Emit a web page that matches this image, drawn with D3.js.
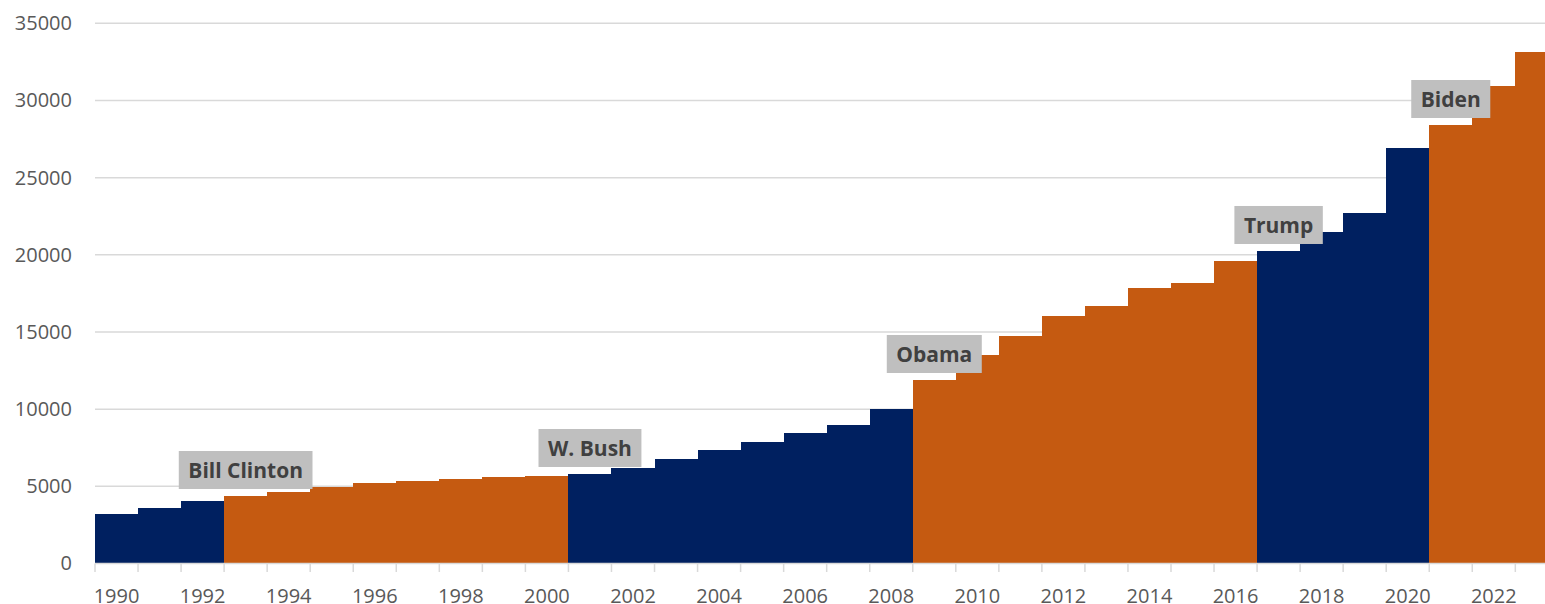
<!DOCTYPE html>
<html>
<head>
<meta charset="utf-8">
<script src="https://cdn.jsdelivr.net/npm/d3@7"></script>
<style>
  html, body { margin: 0; padding: 0; background: #fff; overflow: hidden; }
  svg { display: block; }
  text { font-family: "Open Sans", "Noto Sans", sans-serif; }
</style>
</head>
<body>
<svg id="chart" width="1545" height="604"></svg>
<script>
// ---- data ----
const years = [1990,1991,1992,1993,1994,1995,1996,1997,1998,1999,2000,2001,2002,2003,2004,2005,2006,2007,2008,2009,2010,2011,2012,2013,2014,2015,2016,2017,2018,2019,2020,2021,2022,2023];
const debt = [3206,3598,4049,4373,4633,4957,5216,5369,5478,5605,5669,5799,6188,6771,7354,7872,8455,8974,10010,11890,13509,14760,16036,16684,17824,18151,19573,20248,21478,22709,26921,28411,30938,33141];
const termStart = [1989, 1993, 2001, 2009, 2017, 2021];
const termParty = ["R", "D", "R", "D", "R", "D"];
const termLabel = [null, "Bill Clinton", "W. Bush", "Obama", "Trump", "Biden"];
const yTicks = [0,5000,10000,15000,20000,25000,30000,35000];
const xTickLabels = [1990,1992,1994,1996,1998,2000,2002,2004,2006,2008,2010,2012,2014,2016,2018,2020,2022];

// ---- style ----
const partyColor = { R: "#002060", D: "#C55A11" };

(function () {
const svg = d3.select("#chart");
// plot area extends slightly past the right edge of the picture (cropped, as in the reference)
const mLeft = 95, mRight = 95 + 34 * 43.04, mTop = 23.3, mBottom = 563.5;
const visRight = 1545;

const x = d3.scaleBand().domain(years).range([mLeft, mRight]).padding(0);
const y = d3.scaleLinear().domain([0, 35000]).range([mBottom, mTop]);

function termIndex(yr) {
  let idx = 0;
  termStart.forEach((s, i) => { if (yr >= s) idx = i; });
  return idx;
}

// gridlines
svg.append("g").selectAll("line")
  .data(yTicks.filter(d => d > 0))
  .join("line")
  .attr("x1", mLeft).attr("x2", visRight)
  .attr("y1", d => y(d)).attr("y2", d => y(d))
  .attr("stroke", "#d9d9d9").attr("stroke-width", 1.5);

// y labels
const yAxis = d3.axisLeft(y).tickValues(yTicks).tickSize(0).tickPadding(0).tickFormat(d3.format("d"));
const gy = svg.append("g").attr("transform", "translate(72,0)").call(yAxis);
gy.select(".domain").remove();
gy.selectAll("text").attr("font-size", 20).attr("fill", "#595959")
  .attr("font-family", '"Open Sans", sans-serif');

// bars
const data = years.map((yr, i) => ({ year: yr, value: debt[i], term: termIndex(yr) }));
svg.append("g").attr("shape-rendering", "crispEdges").selectAll("rect")
  .data(data)
  .join("rect")
  .attr("x", d => x(d.year))
  .attr("width", x.bandwidth() + 0.6)
  .attr("y", d => y(d.value))
  .attr("height", d => y(0) - y(d.value))
  .attr("fill", d => partyColor[termParty[d.term]]);

// x axis line + boundary ticks
const gx = svg.append("g");
gx.append("line")
  .attr("x1", mLeft).attr("x2", visRight)
  .attr("y1", y(0)).attr("y2", y(0))
  .attr("stroke", "#d9d9d9").attr("stroke-width", 1.5);
const boundaries = years.map(yr => x(yr)).concat([x.range()[1]]);
gx.selectAll("line.tick")
  .data(boundaries)
  .join("line")
  .attr("class", "tick")
  .attr("x1", d => d).attr("x2", d => d)
  .attr("y1", y(0)).attr("y2", y(0) + 8.5)
  .attr("stroke", "#d9d9d9").attr("stroke-width", 1.5);

// x labels
const xAxis = d3.axisBottom(x).tickValues(xTickLabels).tickSize(0).tickPadding(0);
const gxl = svg.append("g").attr("transform", `translate(0,${y(0)})`).call(xAxis);
gxl.select(".domain").remove();
gxl.selectAll("text")
  .attr("font-size", 20).attr("fill", "#595959")
  .attr("font-family", '"Open Sans", sans-serif')
  .attr("dy", null).attr("y", 39);

// president labels
const ann = svg.append("g");
termStart.forEach((s, i) => {
  if (!termLabel[i]) return;
  const v = debt[years.indexOf(s)];
  const cx = x(s) + x.bandwidth() / 2;
  const boxBottom = y(v) - 7;
  const boxH = 38;
  const g = ann.append("g");
  const rect = g.append("rect").attr("fill", "#bfbfbf");
  const t = g.append("text")
    .attr("x", cx)
    .attr("y", boxBottom - boxH / 2)
    .attr("dy", "0.36em")
    .attr("text-anchor", "middle")
    .attr("font-size", 21)
    .attr("font-weight", 700)
    .attr("fill", "#404040")
    .text(termLabel[i]);
  const w = t.node().getComputedTextLength();
  const padX = 9.5;
  rect.attr("x", cx - w / 2 - padX).attr("width", w + 2 * padX)
    .attr("y", boxBottom - boxH).attr("height", boxH);
});
})();
</script>
</body>
</html>
